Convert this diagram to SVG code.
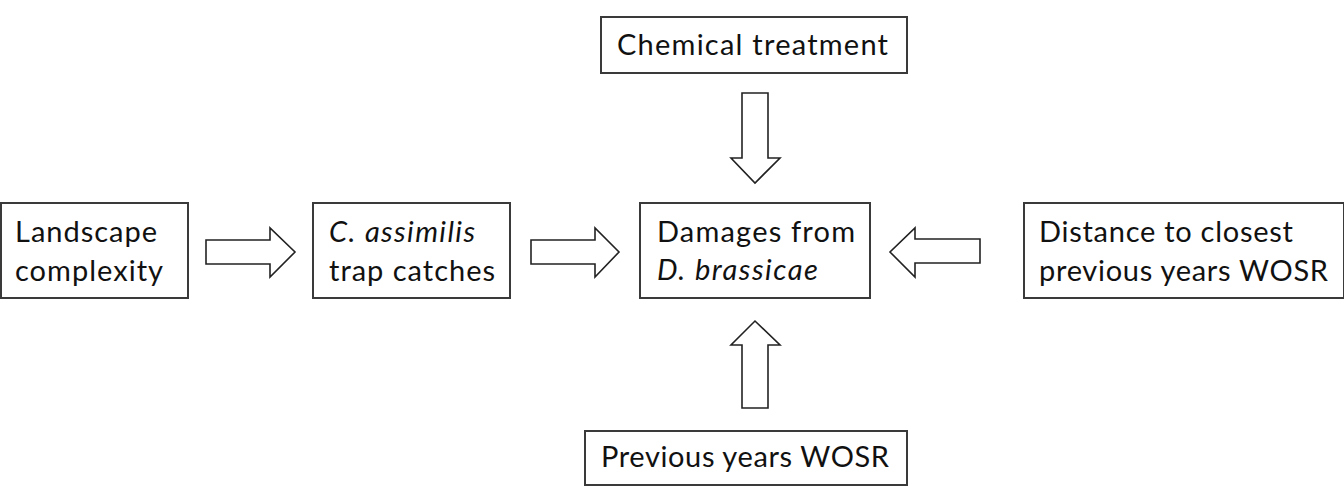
<svg xmlns="http://www.w3.org/2000/svg" width="1344" height="490" viewBox="0 0 1344 490">
<style>
.box{fill:#fff;stroke:#3a3a3a;stroke-width:2}
.arr{fill:#fff;stroke:#222;stroke-width:1.6;stroke-linejoin:miter}
text{font-family:Lato,"Open Sans",sans-serif;font-size:29px;fill:#111}
.i{font-style:italic}
</style>
<rect width="1344" height="490" fill="#fff"/>
<g id="connectors">
<polygon class="arr" points="742,93 768,93 768,158 780,158 755,183 731,158 742,158"/>
<polygon class="arr" points="742,408 768,408 768,345 780,345 755,321 731,345 742,345"/>
<polygon class="arr" points="206,240 270,240 270,228 295,252 270,277 270,264 206,264"/>
<polygon class="arr" points="531,240 595,240 595,228 619,252 595,277 595,264 531,264"/>
<polygon class="arr" points="980,239 915,239 915,228 890,252 915,277 915,263 980,263"/>
</g>
<g id="chemical">
<rect class="box" x="601" y="17" width="306" height="56"/>
<text x="617" y="55" textLength="271">Chemical treatment</text>
</g>
<g id="landscape">
<rect class="box" x="1" y="203" width="187" height="95"/>
<text x="15" y="242" textLength="142">Landscape</text>
<text x="15" y="281" textLength="148">complexity</text>
</g>
<g id="assimilis">
<rect class="box" x="313" y="203" width="197" height="95"/>
<text x="329" y="242" class="i" textLength="146">C. assimilis</text>
<text x="329" y="281" textLength="166">trap catches</text>
</g>
<g id="damages">
<rect class="box" x="640" y="203" width="230" height="95"/>
<text x="657" y="242" textLength="198">Damages from</text>
<text x="657" y="280" class="i" textLength="161">D. brassicae</text>
</g>
<g id="distance">
<rect class="box" x="1024" y="203" width="320" height="95"/>
<text x="1039" y="242" textLength="254">Distance to closest</text>
<text x="1039" y="281" textLength="289">previous years WOSR</text>
</g>
<g id="previous">
<rect class="box" x="585" y="431" width="322" height="54"/>
<text x="601" y="467" textLength="288">Previous years WOSR</text>
</g>
</svg>
